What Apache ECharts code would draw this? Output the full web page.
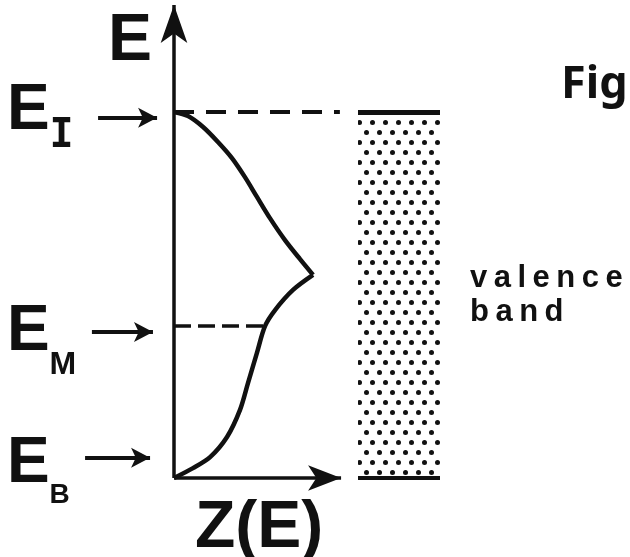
<!DOCTYPE html>
<html>
<head>
<meta charset="utf-8">
<script src="https://cdn.jsdelivr.net/npm/echarts@6/dist/echarts.min.js"></script>
<style>
  html, body { margin: 0; padding: 0; background: #fff; }
  #chart { width: 630px; height: 557px; }
</style>
</head>
<body>
<div id="chart"></div>
<script>
// Energy levels, normalised so that E_B = 0 and E_I = 1
const levelNames = ['I', 'M', 'B'];
const levelValues = [1, 0.415, 0];

// Density of states Z(E): upper branch (E_I down to the peak) and lower branch (peak down to E_B)
const upperZ = [0, 0.082, 0.170, 0.257, 0.339, 0.415, 0.485, 0.561, 0.649, 0.737, 0.813];
const upperE = [1, 0.989, 0.959, 0.918, 0.874, 0.822, 0.768, 0.710, 0.650, 0.598, 0.555];
const lowerZ = [0.813, 0.696, 0.591, 0.532, 0.485, 0.433, 0.386, 0.310, 0.211, 0.111, 0];
const lowerE = [0.555, 0.514, 0.459, 0.415, 0.342, 0.260, 0.186, 0.112, 0.057, 0.027, 0];

// Texts
const axisNames = ['E', 'Z(E)'];
const bandWords = ['valence', 'band'];
const figLabel = 'Fig';

const INK = '#111';
const E_I = levelValues[0], E_M = levelValues[1], E_B = levelValues[2];
const zip = (xs, ys) => xs.map((x, i) => [x, ys[i]]);
const zAtEM = lowerZ[lowerE.indexOf(E_M)];

// shared vertical range of both grids
const Y_MAX = 1.306;

// arrows pointing from each level label towards the E axis: [from Z, tip Z, E]
const levelArrows = [
  [-0.444, -0.099, E_I - 0.016],
  [-0.480, -0.123, E_M - 0.016],
  [-0.520, -0.140, E_B + 0.055]
];
// vertical nudge (px) of each level label
const labelNudge = [-32.5, -26, -45.5];
const subStyle = ['sI', 'sM', 'sB'];

const spaced = (word) => word.split('').map(ch => '{c|' + ch + '}').join('');

const chart = echarts.init(document.getElementById('chart'), null, { renderer: 'canvas' });

const option = {
  animation: false,
  backgroundColor: '#fff',
  title: [
    {
      text: axisNames[0], left: 108, top: 9, padding: 0,
      textStyle: { fontFamily: 'Liberation Sans', fontWeight: 'bold', fontSize: 66, lineHeight: 66, color: INK }
    },
    {
      text: axisNames[1], left: 195, top: 496, padding: 0,
      textStyle: { fontFamily: 'Liberation Sans', fontWeight: 'bold', fontSize: 66, lineHeight: 66, color: INK }
    },
    {
      text: figLabel, left: 561, top: 60, padding: 0,
      textStyle: { fontFamily: 'Noto Sans', fontWeight: 'bold', fontSize: 45, lineHeight: 50, color: INK }
    }
  ],
  grid: [
    { left: 0, top: 0, width: 350, bottom: 79 },
    { left: 358, top: 0, width: 82, bottom: 79 }
  ],
  xAxis: [
    { type: 'value', gridIndex: 0, min: -1.0175, max: 1.0292, show: false },
    { type: 'category', gridIndex: 1, data: ['band'], show: false }
  ],
  yAxis: [
    { type: 'value', gridIndex: 0, min: 0, max: Y_MAX, show: false },
    { type: 'value', gridIndex: 1, min: 0, max: Y_MAX, show: false }
  ],
  series: [
    {
      name: 'Z upper',
      type: 'line',
      xAxisIndex: 0, yAxisIndex: 0,
      data: zip(upperZ, upperE),
      smooth: 0.3,
      showSymbol: false,
      silent: true,
      lineStyle: { color: INK, width: 4.5 },
      markLine: {
        silent: true,
        symbol: ['none', 'arrow'],
        label: { show: false },
        lineStyle: { color: INK, width: 3.5, type: 'solid' },
        data: [
          // E axis
          [{ coord: [0, 0], symbol: 'none' }, { coord: [0, 1.292], symbol: 'arrow', symbolSize: [20, 38] }],
          // Z axis
          [{ coord: [0, 0], symbol: 'none' }, { coord: [0.977, 0], symbol: 'arrow', symbolSize: [19, 33] }]
        ].concat(levelArrows.map(a => [
          { coord: [a[0], a[2]], symbol: 'none', lineStyle: { width: 4 } },
          { coord: [a[1], a[2]], symbol: 'arrow', symbolSize: [15, 19] }
        ]))
      }
    },
    {
      name: 'Z lower',
      type: 'line',
      xAxisIndex: 0, yAxisIndex: 0,
      data: zip(lowerZ, lowerE),
      smooth: 0.3,
      showSymbol: false,
      silent: true,
      lineStyle: { color: INK, width: 4.5 },
      markLine: {
        silent: true,
        symbol: 'none',
        label: { show: false },
        data: [
          [{ coord: [0, E_I], lineStyle: { color: INK, width: 4, type: [20, 12] } }, { coord: [0.97, E_I] }],
          [{ coord: [0, E_M], lineStyle: { color: INK, width: 3.5, type: [17, 7] } }, { coord: [zAtEM, E_M] }]
        ]
      }
    },
    {
      name: 'level labels',
      type: 'scatter',
      xAxisIndex: 0, yAxisIndex: 0,
      symbolSize: 0,
      silent: true,
      itemStyle: { opacity: 1 },
      data: levelValues.map((v, i) => ({
        value: [-0.977, v],
        label: {
          show: true,
          position: [0, 0],
          align: 'left',
          verticalAlign: 'top',
          offset: [0, labelNudge[i]],
          opacity: 1,
          formatter: '{e|E}{' + subStyle[i] + '|' + levelNames[i] + '}',
          rich: {
            e: { fontFamily: 'Liberation Sans', fontWeight: 'bold', fontSize: 64, lineHeight: 64, color: INK, verticalAlign: 'top' },
            sI: { fontFamily: 'DejaVu Sans Mono', fontWeight: 'bold', fontSize: 40, lineHeight: 40, color: INK, verticalAlign: 'top', padding: [37, 0, 0, 0] },
            sM: { fontFamily: 'Liberation Sans', fontWeight: 'bold', fontSize: 32, lineHeight: 32, color: INK, verticalAlign: 'top', padding: [49, 0, 0, 0] },
            sB: { fontFamily: 'Liberation Sans', fontWeight: 'bold', fontSize: 28, lineHeight: 28, color: INK, verticalAlign: 'top', padding: [49, 0, 0, 0] }
          }
        }
      }))
    },
    {
      name: 'valence band',
      type: 'bar',
      xAxisIndex: 1, yAxisIndex: 1,
      data: [E_I],
      barWidth: '100%',
      silent: true,
      itemStyle: {
        color: '#fff',
        decal: {
          symbol: 'circle',
          symbolSize: 1,
          color: INK,
          backgroundColor: '#fff',
          dashArrayX: [[4.5, 7.5], [0, 6, 4.5, 1.5]],
          dashArrayY: [4.5, 5]
        }
      },
      label: {
        show: true,
        position: 'right',
        distance: 30,
        align: 'left',
        formatter: bandWords.map(spaced).join('\n'),
        rich: {
          c: { fontFamily: 'Liberation Sans', fontWeight: 'bold', fontSize: 31, lineHeight: 34, color: INK, padding: [0, 6.5, 0, 0] }
        }
      },
      markLine: {
        silent: true,
        symbol: 'none',
        label: { show: false },
        data: [
          { yAxis: E_I, lineStyle: { color: INK, width: 5, type: 'solid' } },
          { yAxis: E_B, lineStyle: { color: INK, width: 4, type: 'solid' } }
        ]
      }
    }
  ]
};

chart.setOption(option);
</script>
</body>
</html>
